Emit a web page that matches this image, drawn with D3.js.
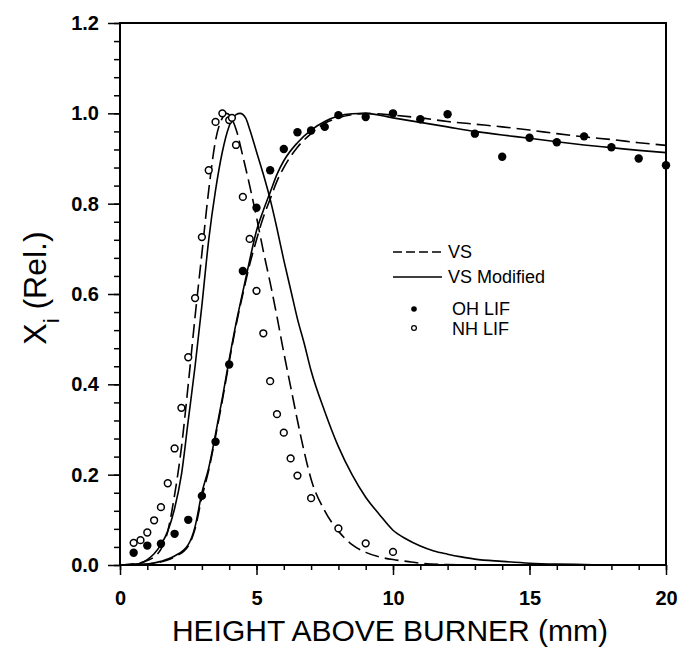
<!DOCTYPE html>
<html>
<head>
<meta charset="utf-8">
<script src="https://cdn.jsdelivr.net/npm/d3@7"></script>
<style>
  body { margin: 0; background: #fff; }
  text { font-family: "Liberation Sans", Arial, sans-serif; fill: #000; }
</style>
</head>
<body>
<svg id="chart" width="679" height="648"></svg>
<script>
var svg = d3.select("#chart");

// measured points [height mm, relative X]
const ohLif = [[0.5,0.027],[1,0.043],[1.5,0.047],[2,0.069],[2.5,0.10],[3,0.153],[3.5,0.273],[4,0.444],
  [4.5,0.651],[5,0.791],[5.5,0.874],[6,0.921],[6.5,0.958],[7,0.962],[7.5,0.97],[8,0.996],[9,0.992],
  [10,1.0],[11,0.987],[12,0.998],[13,0.955],[14,0.904],[15,0.946],[16,0.936],[17,0.949],[18,0.925],
  [19,0.90],[20,0.885]];
const nhLif = [[0.5,0.049],[0.75,0.055],[1,0.072],[1.25,0.099],[1.5,0.128],[1.75,0.181],[2,0.258],
  [2.25,0.348],[2.5,0.46],[2.75,0.591],[3,0.726],[3.25,0.874],[3.5,0.981],[3.75,1.0],[4,0.985],
  [4.1,0.99],[4.25,0.93],[4.5,0.815],[4.75,0.722],[5,0.607],[5.25,0.513],[5.5,0.407],[5.75,0.334],
  [6,0.293],[6.25,0.236],[6.5,0.198],[7,0.148],[8,0.081],[9,0.048],[10,0.029]];

// model curves
const vsNh = [[0,0],[0.5,0.002],[1,0.01],[1.25,0.018],[1.5,0.035],[1.75,0.075],[2,0.155],[2.25,0.26],
  [2.5,0.40],[2.75,0.55],[3,0.69],[3.25,0.83],[3.5,0.94],[3.75,0.99],[3.9,1.0],[4.25,0.965],[4.5,0.905],
  [4.75,0.84],[5,0.77],[5.25,0.695],[5.5,0.625],[5.75,0.55],[6,0.47],[6.25,0.395],[6.5,0.32],[6.75,0.25],
  [7,0.19],[7.5,0.12],[8,0.075],[8.5,0.045],[9,0.028],[9.5,0.018],[10,0.012],[10.5,0.008],[11,0.004],
  [12,0.001],[13,0],[20,0]];
const vsModNh = [[0,0],[0.5,0.002],[0.75,0.004],[1,0.012],[1.25,0.025],[1.5,0.045],[1.75,0.075],[2,0.125],
  [2.25,0.20],[2.5,0.32],[2.75,0.44],[3,0.575],[3.25,0.72],[3.5,0.83],[3.75,0.915],[4,0.972],[4.25,0.997],
  [4.4,1.0],[4.6,0.99],[4.75,0.965],[5,0.915],[5.25,0.865],[5.5,0.81],[5.75,0.745],[6,0.675],[6.25,0.61],
  [6.5,0.545],[6.75,0.49],[7,0.43],[7.5,0.34],[8,0.262],[8.5,0.20],[9,0.15],[9.5,0.112],[10,0.077],
  [10.5,0.057],[11,0.042],[11.5,0.031],[12,0.024],[12.5,0.018],[13,0.013],[14,0.008],[15,0.004],
  [16,0.002],[17,0.001],[18,0],[20,0]];
const vsModOh = [[0,0],[0.5,0.001],[1,0.002],[1.5,0.008],[2,0.02],[2.5,0.045],[2.75,0.085],[3,0.16],
  [3.25,0.215],[3.5,0.29],[3.75,0.37],[4,0.455],[4.25,0.535],[4.5,0.605],[4.75,0.675],[5,0.74],
  [5.25,0.785],[5.5,0.825],[5.75,0.865],[6,0.895],[6.5,0.935],[7,0.963],[7.5,0.982],[8,0.994],
  [8.5,0.999],[9,1.0],[10,0.99],[11,0.98],[12,0.97],[13,0.96],[14,0.952],[15,0.945],[16,0.937],
  [17,0.93],[18,0.924],[19,0.918],[20,0.913]];
const vsOh = [[0,0],[0.5,0.001],[1,0.002],[1.5,0.007],[2,0.018],[2.5,0.042],[2.75,0.08],[3,0.15],
  [3.25,0.21],[3.5,0.285],[3.75,0.365],[4,0.45],[4.25,0.53],[4.5,0.60],[4.75,0.665],[5,0.72],
  [5.25,0.77],[5.5,0.81],[5.75,0.85],[6,0.88],[6.5,0.925],[7,0.955],[7.5,0.978],[8,0.99],[8.5,0.997],
  [9,1.0],[10,0.996],[11,0.99],[12,0.982],[13,0.976],[14,0.97],[15,0.963],[16,0.955],[17,0.948],
  [18,0.942],[19,0.935],[20,0.929]];

const xTicks = [0, 5, 10, 15, 20];
const yTicks = [0, 0.2, 0.4, 0.6, 0.8, 1.0, 1.2];
const legendLabels = ["VS", "VS Modified", "OH LIF", "NH LIF"];

var x = d3.scaleLinear().domain([0, 20]).range([120, 666]);
var y = d3.scaleLinear().domain([0, 1.2]).range([565, 23]);

var line = d3.line()
  .x(function (d) { return x(d[0]); })
  .y(function (d) { return y(d[1]); })
  .curve(d3.curveMonotoneX);

// axes
var xAxis = d3.axisBottom(x).tickValues(xTicks).tickSize(10).tickPadding(16).tickFormat(d3.format("d"));
var xMinor = d3.axisBottom(x).tickValues(d3.range(0, 21, 1)).tickSize(5).tickFormat("");
var yAxis = d3.axisLeft(y).tickValues(yTicks).tickSize(12).tickPadding(9).tickFormat(d3.format(".1f"));
var yMinor = d3.axisLeft(y).tickValues(d3.range(0, 61, 2).map(function (v) { return v / 50; })).tickSize(6).tickFormat("");

function styleAxis(g) {
  g.select(".domain").remove();
  g.selectAll(".tick line").attr("stroke", "#000").attr("stroke-width", 1.5);
  g.selectAll(".tick text").style("font-size", "20px").style("font-weight", "bold")
    .style("font-family", "'Liberation Sans', Arial, sans-serif");
}

svg.append("g").attr("transform", "translate(0,565)").call(xMinor).call(styleAxis);
svg.append("g").attr("transform", "translate(0,565)").call(xAxis).call(styleAxis);
svg.append("g").attr("transform", "translate(120,0)").call(yMinor).call(styleAxis);
svg.append("g").attr("transform", "translate(120,0)").call(yAxis).call(styleAxis);

// frame
svg.append("rect")
  .attr("x", x(0)).attr("y", y(1.2))
  .attr("width", x(20) - x(0)).attr("height", y(0) - y(1.2))
  .attr("fill", "none").attr("stroke", "#000").attr("stroke-width", 2);

// curves
var curves = [
  { data: vsNh, dash: "14,6" },
  { data: vsOh, dash: "14,6" },
  { data: vsModNh, dash: null },
  { data: vsModOh, dash: null }
];
svg.append("g").selectAll("path")
  .data(curves)
  .join("path")
  .attr("d", function (d) { return line(d.data); })
  .attr("fill", "none")
  .attr("stroke", "#000")
  .attr("stroke-width", 1.6)
  .attr("stroke-dasharray", function (d) { return d.dash; });

// data points
svg.append("g").selectAll("circle")
  .data(nhLif)
  .join("circle")
  .attr("cx", function (d) { return x(d[0]); })
  .attr("cy", function (d) { return y(d[1]); })
  .attr("r", 3.4)
  .attr("fill", "#fff")
  .attr("stroke", "#000")
  .attr("stroke-width", 1.5);

svg.append("g").selectAll("circle")
  .data(ohLif)
  .join("circle")
  .attr("cx", function (d) { return x(d[0]); })
  .attr("cy", function (d) { return y(d[1]); })
  .attr("r", 4.2)
  .attr("fill", "#000");

// legend
var legend = svg.append("g");
legend.append("line").attr("x1", 393).attr("x2", 442).attr("y1", 252).attr("y2", 252)
  .attr("stroke", "#000").attr("stroke-width", 1.3).attr("stroke-dasharray", "9,4");
legend.append("line").attr("x1", 393).attr("x2", 442).attr("y1", 277).attr("y2", 277)
  .attr("stroke", "#000").attr("stroke-width", 1.3);
legend.append("circle").attr("cx", 414).attr("cy", 309).attr("r", 2.8).attr("fill", "#000");
legend.append("circle").attr("cx", 414).attr("cy", 328).attr("r", 2.4)
  .attr("fill", "#fff").attr("stroke", "#000").attr("stroke-width", 1.2);
legend.selectAll("text")
  .data(legendLabels)
  .join("text")
  .attr("x", function (d, i) { return i < 2 ? 448 : 452; })
  .attr("y", function (d, i) { return [258, 283, 315, 335][i]; })
  .style("font-size", "18px")
  .text(function (d) { return d; });

// axis titles
svg.append("text")
  .attr("x", 390).attr("y", 641)
  .attr("text-anchor", "middle")
  .style("font-size", "30px")
  .text("HEIGHT ABOVE BURNER  (mm)");

var yTitle = svg.append("text")
  .attr("transform", "translate(46,288) rotate(-90)")
  .attr("text-anchor", "middle")
  .style("font-size", "32px");
yTitle.append("tspan").text("X");
yTitle.append("tspan").attr("baseline-shift", "sub").style("font-size", "22px").text("i");
yTitle.append("tspan").text(" (Rel.)");
</script>
</body>
</html>
